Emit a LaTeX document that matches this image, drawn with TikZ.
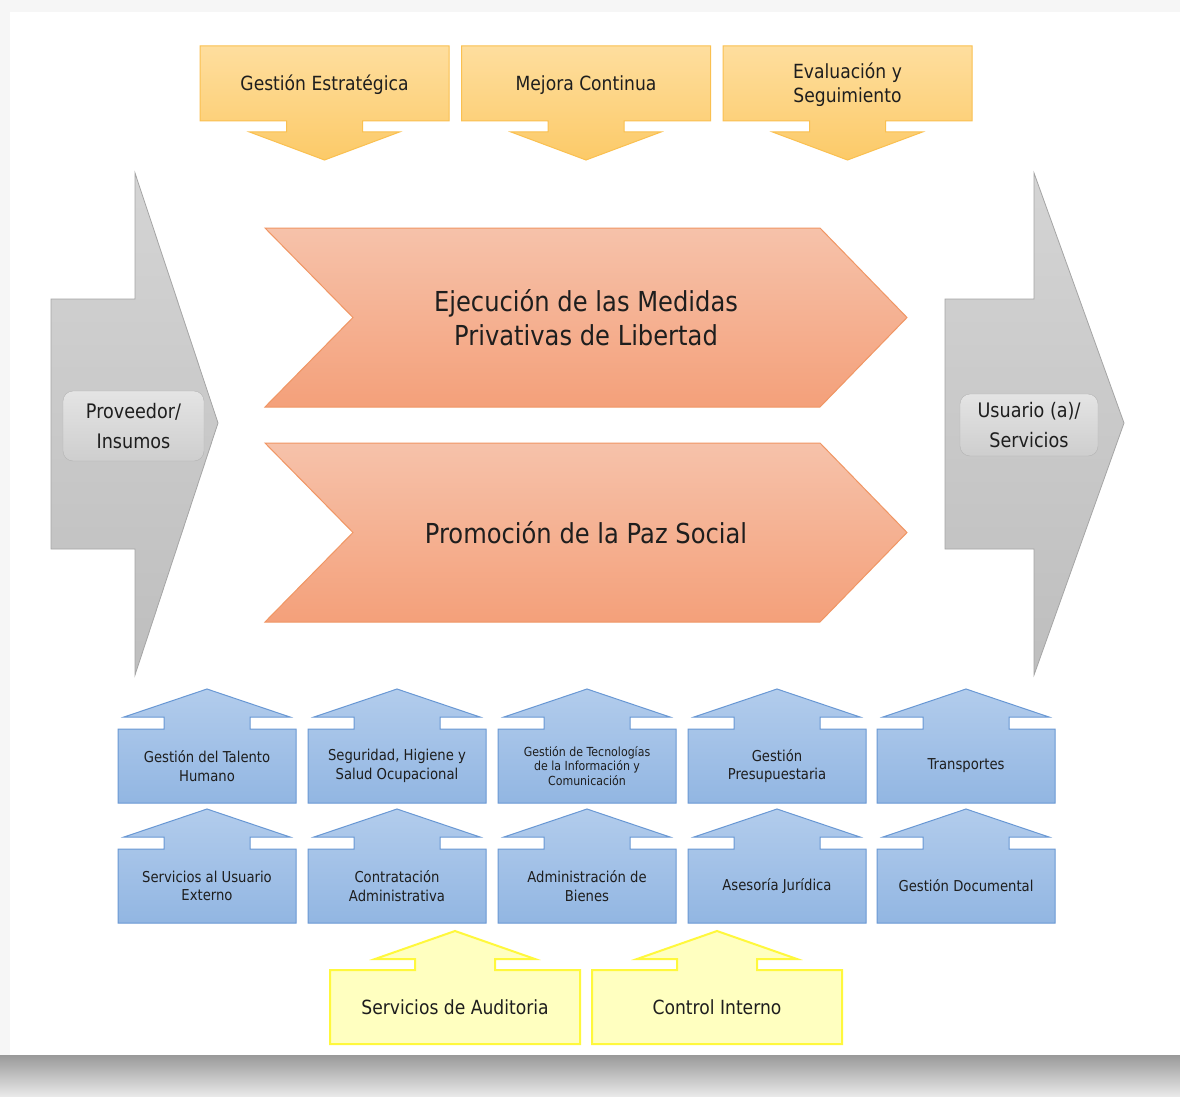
\documentclass[tikz,border=0pt]{standalone}
\usepackage{fontspec}
\setmainfont{DejaVu Sans}[FakeStretch=0.88]
\usetikzlibrary{positioning}

\definecolor{TopLine}{RGB}{250,192,80}
\definecolor{TopA}{RGB}{254,222,158}
\definecolor{TopB}{RGB}{252,202,104}
\definecolor{ChevLine}{RGB}{240,150,100}
\definecolor{ChevA}{RGB}{246,194,170}
\definecolor{ChevB}{RGB}{244,160,122}
\definecolor{GrayLine}{RGB}{165,165,165}
\definecolor{GrayA}{RGB}{212,212,212}
\definecolor{GrayB}{RGB}{190,190,190}
\definecolor{PillLine}{RGB}{180,180,180}
\definecolor{PillA}{RGB}{228,228,228}
\definecolor{PillB}{RGB}{206,206,206}
\definecolor{BlueLine}{RGB}{105,152,212}
\definecolor{BlueA}{RGB}{178,204,236}
\definecolor{BlueB}{RGB}{146,182,226}
\definecolor{YelLine}{RGB}{255,248,60}
\definecolor{YelFill}{RGB}{255,255,192}
\definecolor{Ink}{RGB}{30,30,30}

\begin{document}
\begin{tikzpicture}
        [
            x = 1pt, y = -1pt,
            downcall/.style = {draw=TopLine, line width=1pt, top color=TopA, bottom color=TopB},
            chevron/.style = {draw=ChevLine, line width=1pt, top color=ChevA, bottom color=ChevB},
            bigarrow/.style = {draw=GrayLine, line width=0.8pt, top color=GrayA, bottom color=GrayB},
            pill/.style = {
                draw=PillLine, rounded corners=10pt, top color=PillA, bottom color=PillB,
                align=center, text=Ink, font={\fontsize{20}{30}\selectfont}},
            upcall/.style = {draw=BlueLine, line width=1pt, top color=BlueA, bottom color=BlueB},
            audit/.style = {draw=YelLine, line width=2pt, fill=YelFill},
            toptext/.style = {align=center, text=Ink, font={\fontsize{19.5}{24}\selectfont}},
            bigtext/.style = {align=center, text=Ink, font={\fontsize{27.5}{34}\selectfont}},
            bluetext/.style = {align=center, text=Ink, font={\fontsize{15}{18.5}\selectfont}},
            tictext/.style = {align=center, text=Ink, font={\fontsize{12.5}{14.5}\selectfont}}
        ]
        \useasboundingbox (0,0) rectangle (1180,1097);
        % page and its shadow
        \fill [gray!7] (0,0) rectangle (1180,1097);
        \fill [white] (10,12) rectangle (1180,1055);
        \shade [top color=black!40, bottom color=gray!16] (0,1055) rectangle (1180,1097);

        % strategic processes
        \foreach \cx/\name/\txt in {324.5/gestion/{Gestión Estratégica}, 586/mejora/{Mejora Continua},
                                    847.5/evaluacion/{Evaluación y\\Seguimiento}} {
            \draw [downcall] (\cx-124.5,46) -- (\cx+124.5,46) -- (\cx+124.5,121) -- (\cx+38,121) -- (\cx+38,132)
                -- (\cx+75,132) -- (\cx,160) -- (\cx-75,132) -- (\cx-38,132) -- (\cx-38,121) -- (\cx-124.5,121) -- cycle;
            \node [toptext] (\name) at (\cx,85) {\txt};
        }

        % inputs and outputs
        \draw [bigarrow] (51,299) -- (135,299) -- (135,173) -- (218,423) -- (135,675) -- (135,549) -- (51,549) -- cycle;
        \draw [bigarrow] (945,299) -- (1034,299) -- (1034,173) -- (1124,423) -- (1034,675) -- (1034,549) -- (945,549) -- cycle;
        \node [pill, minimum width=141pt, minimum height=70pt] (proveedor) at (133.5,426) {Proveedor/\\Insumos};
        \node [pill, minimum width=138pt, minimum height=62pt] (usuario) at (1029,425) {Usuario (a)/\\Servicios};

        % core processes
        \foreach \y/\name/\txt in {228/ejecucion/{Ejecución de las Medidas\\Privativas de Libertad},
                                   443/paz/{Promoción de la Paz Social}} {
            \draw [chevron] (265,\y) -- (820,\y) -- (907,\y+89.5) -- (820,\y+179) -- (265,\y+179) -- (353,\y+89.5) -- cycle;
            \node [bigtext] (\name) at (586,\y+90) {\txt};
        }

        % support processes
        \foreach \cx/\r/\name/\sty/\txt in {207/0/talento/bluetext/{Gestión del Talento\\Humano},
                397/0/seguridad/bluetext/{Seguridad, Higiene y\\Salud Ocupacional},
                587/0/tic/tictext/{Gestión de Tecnologías\\de la Información y\\Comunicación},
                777/0/presupuesto/bluetext/{Gestión\\Presupuestaria},
                966/0/transportes/bluetext/{Transportes},
                207/120/usuarioext/bluetext/{Servicios al Usuario\\Externo},
                397/120/contratacion/bluetext/{Contratación\\Administrativa},
                587/120/bienes/bluetext/{Administración de\\Bienes},
                777/120/juridica/bluetext/{Asesoría Jurídica},
                966/120/documental/bluetext/{Gestión Documental}} {
            \draw [upcall] (\cx-89,803+\r) -- (\cx-89,729+\r) -- (\cx-43,729+\r) -- (\cx-43,717+\r) -- (\cx-83,717+\r)
                -- (\cx,689+\r) -- (\cx+83,717+\r) -- (\cx+43,717+\r) -- (\cx+43,729+\r) -- (\cx+89,729+\r) -- (\cx+89,803+\r) -- cycle;
            \node [\sty] (\name) at (\cx,766+\r) {\txt};
        }

        % control processes
        \foreach \cx/\name/\txt in {455/auditoria/{Servicios de Auditoria}, 717/control/{Control Interno}} {
            \draw [audit] (\cx-125,1044) -- (\cx-125,970) -- (\cx-40,970) -- (\cx-40,959) -- (\cx-80,959) -- (\cx,931)
                -- (\cx+80,959) -- (\cx+40,959) -- (\cx+40,970) -- (\cx+125,970) -- (\cx+125,1044) -- cycle;
            \node [toptext] (\name) at (\cx,1007) {\txt};
        }
    \end{tikzpicture}
\end{document}
